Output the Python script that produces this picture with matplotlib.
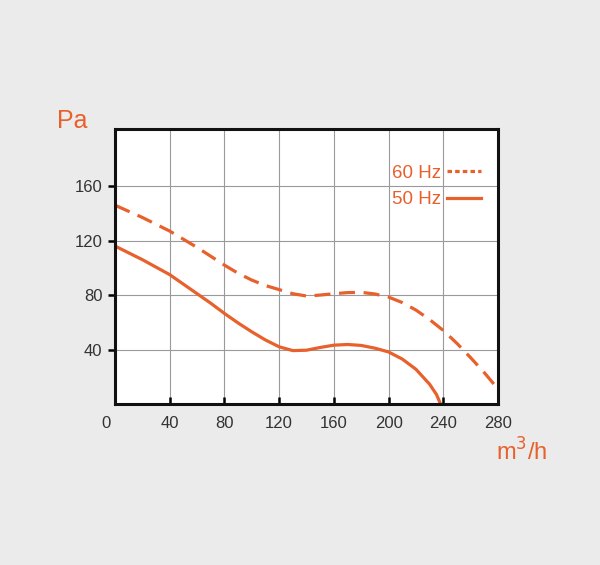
import matplotlib.pyplot as plt
from matplotlib.lines import Line2D

plt.rcParams['font.family'] = ['Liberation Sans', 'DejaVu Sans']

# curves (m3/h, Pa)
q_60 = [0, 10, 20, 30, 40, 50, 60, 70, 80, 90, 100, 110, 120, 130, 140,
        150, 160, 170, 180, 190, 200, 210, 220, 230, 240, 250, 260, 270, 280]
p_60 = [146, 141.5, 137, 132, 127, 121, 115, 108.5, 102, 96, 91, 87, 84, 81, 79.3,
        80, 81, 81.8, 82, 80.8, 78.5, 74.5, 69, 62, 54, 44.5, 34, 23, 11]

q_50 = [0, 10, 20, 30, 40, 50, 60, 70, 80, 90, 100, 110, 120, 130, 140,
        150, 160, 170, 180, 190, 200, 210, 220, 230, 235, 238]
p_50 = [116, 111, 106, 100.5, 95, 88, 81, 74, 66.5, 59.5, 53, 47, 42, 39.2, 39.5,
        41.5, 43.2, 43.7, 43, 41, 38.2, 33, 25.5, 14.5, 7, 0]

x_ticks = [40, 80, 120, 160, 200, 240, 280]
y_ticks = [40, 80, 120, 160]

orange = '#E8602C'
bg = '#EBEBEB'

fig = plt.figure(figsize=(6, 5.65), dpi=100, facecolor=bg)
ax = fig.add_axes([0.1917, 0.285, 0.6383, 0.4867])

ax.plot(q_60, p_60, color=orange, lw=2.3, linestyle=(0, (5, 2.7)))
ax.plot(q_50, p_50, color=orange, lw=2.3)

ax.set_xlim(0, 280)
ax.set_ylim(0, 202)
ax.set_xticks(x_ticks)
ax.set_yticks(y_ticks)
ax.grid(True, color='#9a9a9a', lw=0.8)
for s in ax.spines.values():
    s.set_linewidth(2.2)
    s.set_color('#111111')

ax.tick_params(axis='x', direction='in', length=5, width=1.8, pad=8.5,
               labelsize=12, labelcolor='#333333')
ax.tick_params(axis='y', direction='out', length=5, width=1.8, pad=4,
               labelsize=12, labelcolor='#333333')
ax.annotate('0', xy=(0, 0), xycoords='data', xytext=(-6.5, -8.5),
            textcoords='offset points', ha='center', va='top',
            fontsize=12, color='#333333', annotation_clip=False)

fig.text(0.095, 0.785, 'Pa', color=orange, fontsize=18, ha='left', va='center')
fig.text(0.826, 0.2, 'm$^3$/h', color=orange, fontsize=17, ha='left', va='center')

handles = [Line2D([], [], color=orange, lw=2.3, linestyle=(0, (1.4, 1.0))),
           Line2D([], [], color=orange, lw=2.3)]
leg = ax.legend(handles, ['60 Hz', '50 Hz'], loc='upper right',
                bbox_to_anchor=(0.955, 0.87), frameon=False, markerfirst=False,
                fontsize=13.5, handlelength=1.8, handletextpad=0.3,
                labelspacing=0.5, borderpad=0, borderaxespad=0)
for t in leg.get_texts():
    t.set_color(orange)

fig.savefig('out.png', dpi=100, facecolor=bg)
